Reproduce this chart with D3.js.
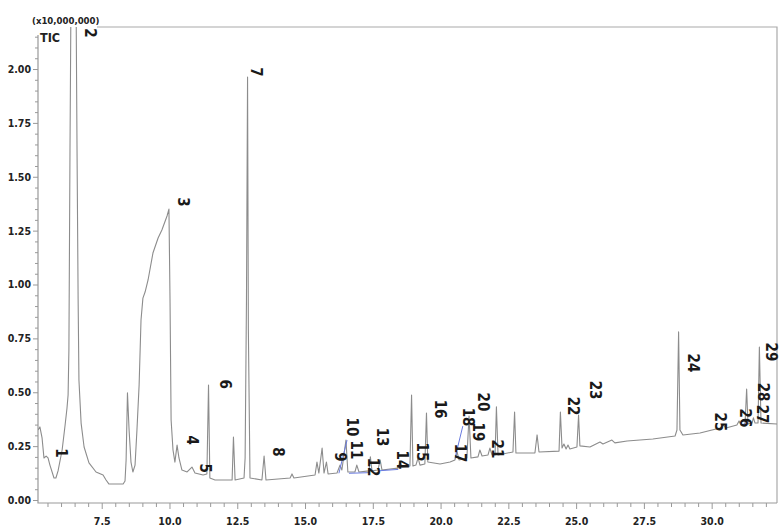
<!DOCTYPE html>
<html>
<head>
<meta charset="utf-8">
<script src="https://cdn.jsdelivr.net/npm/d3@7"></script>
<style>
  body { margin: 0; background: #fff; }
  svg { display: block; }
  .tick text { font-family: "DejaVu Sans Condensed", "Liberation Sans Narrow", sans-serif; font-weight: bold; font-size: 10.5px; fill: #222; }
  .tick line { stroke: #999; }
  .peak-label { font-family: "DejaVu Sans Condensed", "Liberation Sans", sans-serif; font-weight: bold; font-size: 15px; fill: #1a1a1a; }
</style>
</head>
<body>
<div id="wrapper"></div>
<script>
// retention time (min) and TIC intensity (x10,000,000)
const retentionTime = [
  5.15, 5.22, 5.30, 5.37, 5.45, 5.52, 5.59, 5.74, 5.81, 5.89, 6.04, 6.15, 6.22, 6.26, 6.29, 6.33,
  6.37, 6.44, 6.55, 6.59, 6.63, 6.66, 6.74, 6.85, 7.03, 7.29, 7.55, 7.66, 7.77, 8.29, 8.36, 8.40,
  8.45, 8.51, 8.58, 8.65, 8.73, 8.80, 8.88, 8.95, 9.02, 9.10, 9.21, 9.39, 9.58, 9.72, 9.91, 9.98,
  10.02, 10.06, 10.13, 10.20, 10.28, 10.35, 10.46, 10.65, 10.83, 10.94, 11.24, 11.38, 11.44, 11.49,
  11.68, 12.31, 12.36, 12.42, 12.75, 12.79, 12.84, 12.88, 12.91, 12.97, 13.41, 13.49, 13.56,
  14.45, 14.52, 14.59, 15.37, 15.44, 15.51, 15.63, 15.70, 15.79, 15.85, 16.18, 16.29, 16.36,
  16.51, 16.58, 16.84, 16.91, 16.99, 17.36, 17.41, 17.47, 17.69, 17.77, 17.84, 18.43, 18.50,
  18.58, 18.87, 18.93, 18.98, 19.09, 19.17, 19.24, 19.42, 19.48, 19.53, 19.98, 20.35, 20.53,
  20.61, 20.68, 20.97, 21.05, 21.12, 21.38, 21.45, 21.53, 21.75, 21.82, 21.90, 22.01, 22.06,
  22.12, 22.67, 22.73, 22.78, 23.48, 23.56, 23.63, 24.37, 24.42, 24.48, 24.55, 24.63, 24.70,
  24.77, 25.03, 25.09, 25.14, 25.51, 25.88, 25.99, 26.32, 26.43, 26.88, 27.83, 28.65, 28.72,
  28.78, 28.83, 28.94, 29.57, 30.31, 30.42, 30.53, 30.93, 31.01, 31.08, 31.23, 31.29, 31.34,
  31.49, 31.54, 31.60, 31.71, 31.76, 31.82, 32.41
]
const intensity = [
  0.325, 0.339, 0.288, 0.195, 0.204, 0.195, 0.162, 0.102, 0.102, 0.135, 0.232, 0.348, 0.427, 0.487, 0.696, 1.62,
  2.40, 2.80, 2.40, 1.62, 0.93, 0.557, 0.357, 0.246, 0.172, 0.130, 0.116, 0.093, 0.074, 0.074, 0.088, 0.186,
  0.497, 0.325, 0.176, 0.130, 0.162, 0.325, 0.534, 0.835, 0.937, 0.965, 1.021, 1.146, 1.216, 1.253, 1.318, 1.350,
  0.928, 0.371, 0.232, 0.176, 0.255, 0.195, 0.139, 0.130, 0.153, 0.125, 0.116, 0.121, 0.534, 0.102,
  0.093, 0.093, 0.292, 0.093, 0.102, 0.195, 0.928, 1.963, 0.789, 0.102, 0.093, 0.204, 0.093,
  0.102, 0.121, 0.102, 0.116, 0.176, 0.125, 0.241, 0.125, 0.176, 0.121, 0.125, 0.162, 0.139,
  0.278, 0.130, 0.130, 0.162, 0.130, 0.135, 0.200, 0.135, 0.139, 0.186, 0.139, 0.148, 0.176,
  0.153, 0.158, 0.487, 0.158, 0.162, 0.195, 0.162, 0.167, 0.404, 0.176, 0.167, 0.176, 0.186,
  0.223, 0.186, 0.195, 0.390, 0.195, 0.200, 0.232, 0.204, 0.209, 0.241, 0.209, 0.209, 0.432,
  0.209, 0.223, 0.408, 0.218, 0.218, 0.302, 0.223, 0.227, 0.408, 0.241, 0.260, 0.237, 0.255,
  0.237, 0.246, 0.394, 0.251, 0.246, 0.269, 0.260, 0.278, 0.265, 0.274, 0.283, 0.297, 0.325,
  0.780, 0.325, 0.302, 0.311, 0.334, 0.348, 0.334, 0.348, 0.367, 0.348, 0.353, 0.515, 0.353,
  0.357, 0.381, 0.357, 0.357, 0.710, 0.357, 0.353
]

// peak numbers and where their labels sit (time, level)
const peakLabels = ["1","2","3","4","5","6","7","8","9","10","11","12","13","14","15",
  "16","17","18","19","20","21","22","23","24","25","26","27","28","29"]
const labelTime = [6.00, 7.07, 10.50, 10.83, 11.31, 12.05, 13.19, 14.00, 16.29, 16.73, 16.88, 17.51,
  17.84, 18.58, 19.31, 19.98, 20.72, 21.01, 21.38, 21.56, 22.08, 24.88, 25.70, 29.31, 30.31,
  31.23, 31.86, 31.89, 32.20]
const labelLevel = [0.218, 2.167, 1.383, 0.278, 0.148, 0.538, 1.986, 0.223, 0.200, 0.339, 0.232, 0.153,
  0.292, 0.186, 0.223, 0.422, 0.218, 0.385, 0.316, 0.455, 0.237, 0.436, 0.510, 0.636, 0.362,
  0.381, 0.399, 0.501, 0.687]

// blue integration baselines: [t, v] at each end
const baselineStart = [[16.25, 0.124], [16.62, 0.124], [17.77, 0.136], [20.53, 0.193], [31.14, 0.348]]
const baselineEnd = [[16.55, 0.278], [17.40, 0.127], [18.44, 0.142], [20.82, 0.343], [31.41, 0.371]]

const yMajor = [0, 0.25, 0.5, 0.75, 1.0, 1.25, 1.5, 1.75, 2.0]
const xMajor = [7.5, 10.0, 12.5, 15.0, 17.5, 20.0, 22.5, 25.0, 27.5, 30.0]

const dimensions = { width: 780, height: 527, left: 38, right: 777, top: 27, bottom: 503 }

const svg = d3.select("#wrapper").append("svg")
  .attr("width", dimensions.width)
  .attr("height", dimensions.height)

const x = d3.scaleLinear().domain([5.15, 32.41]).range([dimensions.left, dimensions.right])
const y = d3.scaleLinear().domain([0, 2.195]).range([500, dimensions.top])

svg.append("clipPath").attr("id", "plot-clip")
  .append("rect")
  .attr("x", dimensions.left).attr("y", dimensions.top)
  .attr("width", dimensions.right - dimensions.left)
  .attr("height", dimensions.bottom - dimensions.top)

// frame
svg.append("path")
  .attr("d", `M97,${dimensions.top}H${dimensions.right}V${dimensions.bottom}`)
  .attr("fill", "none").attr("stroke", "#aaa").attr("stroke-width", 1.2)
svg.append("path")
  .attr("d", `M${dimensions.left},35V${dimensions.bottom}H${dimensions.right}`)
  .attr("fill", "none").attr("stroke", "#999").attr("stroke-width", 1.2)

// y axis
const yMinor = d3.range(0, 2.2, 0.05).filter(v => !yMajor.some(m => Math.abs(m - v) < 1e-6))
svg.append("g").attr("transform", `translate(${dimensions.left},0)`)
  .call(d3.axisLeft(y).tickValues(yMinor).tickSize(3).tickFormat(""))
  .call(g => g.select(".domain").remove())
svg.append("g").attr("transform", `translate(${dimensions.left},0)`)
  .call(d3.axisLeft(y).tickValues(yMajor).tickSize(5).tickPadding(2).tickFormat(d3.format(".2f")))
  .call(g => g.select(".domain").remove())

// x axis
const xMinor = d3.range(5.5, 32.5, 0.5).filter(v => !xMajor.some(m => Math.abs(m - v) < 1e-6))
svg.append("g").attr("transform", `translate(0,${dimensions.bottom})`)
  .call(d3.axisBottom(x).tickValues(xMinor).tickSize(4).tickFormat(""))
  .call(g => g.select(".domain").remove())
svg.append("g").attr("transform", `translate(0,${dimensions.bottom})`)
  .call(d3.axisBottom(x).tickValues(xMajor).tickSize(6).tickPadding(9).tickFormat(d3.format(".1f")))
  .call(g => g.select(".domain").remove())

svg.append("text").attr("x", 32).attr("y", 24)
  .style("font-family", "'DejaVu Sans Condensed', 'Liberation Sans Narrow', sans-serif")
  .style("font-size", "9.5px").style("font-weight", "bold").style("fill", "#222")
  .text("(x10,000,000)")
svg.append("text").attr("x", 40).attr("y", 42)
  .style("font-family", "'DejaVu Sans Condensed', 'Liberation Sans Narrow', sans-serif")
  .style("font-size", "12.5px").style("font-weight", "bold").style("fill", "#222")
  .text("TIC")

// trace
const points = retentionTime.map((t, i) => [t, intensity[i]])
const line = d3.line().x(d => x(d[0])).y(d => y(d[1]))
svg.append("path")
  .datum(points)
  .attr("clip-path", "url(#plot-clip)")
  .attr("d", line)
  .attr("fill", "none")
  .attr("stroke", "#8c8c8c")
  .attr("stroke-width", 1.1)
  .attr("stroke-linejoin", "round")

// integration baselines
svg.selectAll(".baseline").data(baselineStart)
  .enter().append("line")
  .attr("class", "baseline")
  .attr("x1", d => x(d[0])).attr("y1", d => y(d[1]))
  .attr("x2", (d, i) => x(baselineEnd[i][0])).attr("y2", (d, i) => y(baselineEnd[i][1]))
  .attr("stroke", "#6a7be0").attr("stroke-width", 1)

// peak labels
svg.selectAll(".peak-label").data(peakLabels)
  .enter().append("text")
  .attr("class", "peak-label")
  .attr("text-anchor", "middle")
  .attr("dominant-baseline", "central")
  .attr("transform", (d, i) => `translate(${x(labelTime[i])},${y(labelLevel[i])}) rotate(90)`)
  .text(d => d)
</script>
</body>
</html>
